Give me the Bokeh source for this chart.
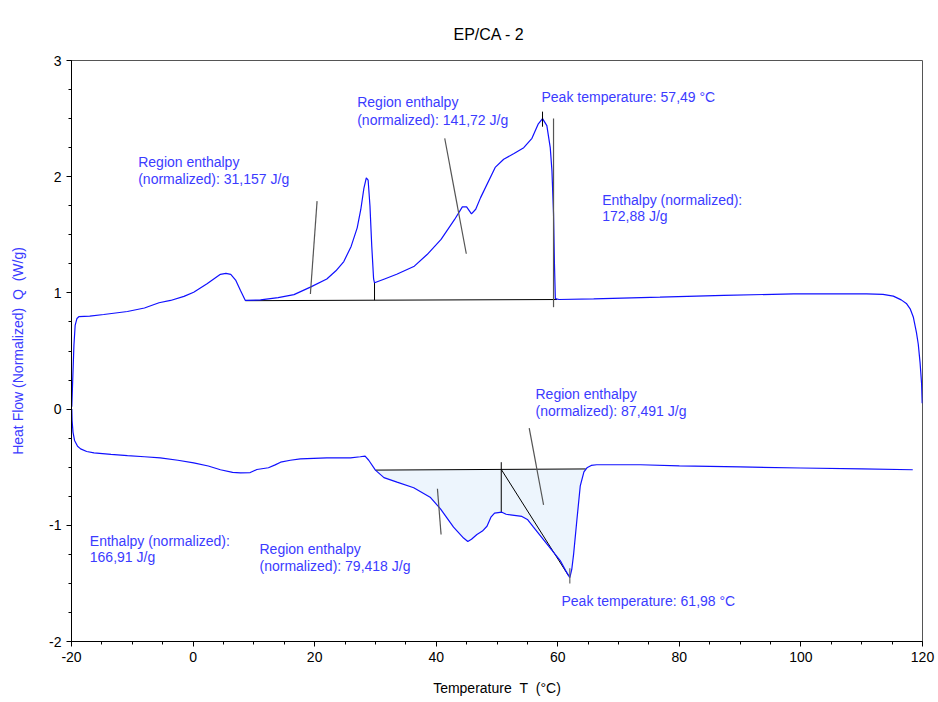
import numpy as np
from bokeh.plotting import figure
from bokeh.models import FixedTicker
from bokeh.embed import file_html
from bokeh.resources import INLINE
from bokeh.core.properties import value

# ---- DSC data: temperature T (°C) vs normalized heat flow Q (W/g) ----
# heating run (upper trace)
heat_T = [-19.95, -19.8, -19.6, -19.4, -19.1, -18.8, -17.0, -14.7, -10.8, -8.0,
          -5.6, -3.7, -1.5, 0.1, 2.3, 4.5, 5.4, 6.2, 7.0, 7.8,
          8.6, 11.1, 14.0, 16.6, 19.3, 22.0, 23.5, 24.8, 26.0, 27.0,
          27.6, 28.1, 28.5, 28.8, 29.1, 29.4, 29.7, 29.85, 31.5, 33.5,
          36.4, 38.5, 40.8, 43.0, 44.3, 45.0, 45.8, 46.5, 47.3, 49.7,
          51.1, 52.8, 54.4, 55.75, 56.8, 57.49, 58.2, 58.76, 59.04, 59.3,
          59.45, 59.6, 60.2, 65.9, 76.8, 87.3, 98.8, 110.8, 113.5, 115.2,
          116.5, 117.4, 118.0, 118.5, 119.0, 119.3, 119.6, 119.85, 119.95]
heat_Q = [0.02, 0.25, 0.55, 0.72, 0.78, 0.795, 0.80, 0.814, 0.84, 0.87,
          0.915, 0.935, 0.97, 1.006, 1.078, 1.16, 1.168, 1.16, 1.11, 1.02,
          0.935, 0.94, 0.96, 0.985, 1.05, 1.12, 1.19, 1.27, 1.40, 1.56,
          1.72, 1.90, 1.99, 1.97, 1.75, 1.40, 1.12, 1.087, 1.12, 1.16,
          1.23, 1.33, 1.46, 1.63, 1.74, 1.74, 1.68, 1.72, 1.82, 2.08,
          2.15, 2.20, 2.25, 2.33, 2.455, 2.50, 2.44, 2.25, 2.05, 1.68,
          1.25, 0.95, 0.943, 0.949, 0.963, 0.978, 0.992, 0.992, 0.988, 0.972,
          0.94, 0.906, 0.86, 0.79, 0.66, 0.56, 0.40, 0.218, 0.05]

# cooling run (lower trace)
cool_T = [-19.95, -19.9, -19.75, -19.5, -19.0, -18.5, -17.5, -16.3, -13.5, -10.8,
          -8.0, -5.4, -2.5, 0.1, 2.5, 4.5, 6.5, 7.8, 9.4, 10.5,
          12.4, 13.5, 14.4, 16.0, 17.65, 22.0, 25.9, 27.5, 28.3, 28.9,
          30.0, 31.4, 33.55, 36.3, 39.0, 40.7, 42.85, 44.5, 45.2, 45.8,
          46.7, 47.6, 48.35, 49.0, 49.6, 50.8, 51.5, 52.2, 54.1, 55.0,
          56.0, 58.2, 60.4, 61.3, 61.98, 62.3, 62.6, 63.15, 63.7, 64.3,
          64.8, 65.5, 66.4, 73.6, 80.0, 90.0, 100.0, 110.0, 118.4]
cool_Q = [0.0, -0.10, -0.20, -0.27, -0.32, -0.342, -0.365, -0.376, -0.39, -0.40,
          -0.41, -0.42, -0.44, -0.463, -0.49, -0.522, -0.545, -0.549, -0.546, -0.52,
          -0.505, -0.48, -0.457, -0.44, -0.428, -0.419, -0.419, -0.41, -0.405, -0.44,
          -0.525, -0.59, -0.629, -0.677, -0.758, -0.858, -1.016, -1.11, -1.139, -1.12,
          -1.079, -1.05, -1.008, -0.93, -0.895, -0.887, -0.905, -0.91, -0.924, -0.95,
          -1.016, -1.16, -1.303, -1.39, -1.45, -1.38, -1.25, -0.95, -0.66, -0.54,
          -0.505, -0.485, -0.479, -0.479, -0.488, -0.498, -0.507, -0.515, -0.522]

# integration baselines and region splits
heat_base_T = [8.6, 59.9]
heat_base_Q = [0.933, 0.943]
cool_base_T = [30.0, 64.6]
cool_base_Q = [-0.525, -0.515]
heat_split_T = 29.85
cool_split_T = 50.7
cool_split_top = -0.457

# peak temperatures (°C)
peak_T = [57.49, 61.98]

# enthalpy results (J/g)
region_heat = ["31,157", "141,72"]
total_heat = "172,88"
region_cool = ["79,418", "87,491"]
total_cool = "166,91"

x_ticks = [-20, 0, 20, 40, 60, 80, 100, 120]
y_ticks = [-2, -1, 0, 1, 2, 3]


def fmt(v):
    return f"{v:.2f}".replace(".", ",")


W, H = 938, 702
L, R, T_, B = 71, 16, 60, 61
x0, x1, y0, y1 = -20, 120, -2, 3
fw, fh = W - L - R, H - T_ - B


def px_x(px):
    return x0 + (px - L) * (x1 - x0) / fw


def px_y(py):
    return y1 - (py - T_) * (y1 - y0) / fh


FONT = "Liberation Sans"
BLUE_TXT = "#3b3bff"
CURVE = "#1010ff"
SP = "\u00a0\u00a0"

p = figure(width=W, height=H, x_range=(x0, x1), y_range=(y0, y1),
           output_backend="svg", toolbar_location=None, title="EP/CA - 2",
           min_border_left=L, min_border_right=R, min_border_top=T_,
           min_border_bottom=B)
p.xgrid.visible = False
p.ygrid.visible = False
p.outline_line_color = "#555555"
p.background_fill_color = "white"
p.border_fill_color = "white"

p.title.text_font = FONT
p.title.text_font_size = "16px"
p.title.text_font_style = "normal"
p.title.text_color = "black"
p.title.align = "left"
p.title.offset = 382
p.title.standoff = 36

for ax in (p.xaxis, p.yaxis):
    ax.axis_line_color = "black"
    ax.major_tick_line_color = "black"
    ax.minor_tick_line_color = "black"
    ax.major_tick_in = 0
    ax.major_tick_out = 5
    ax.minor_tick_in = 0
    ax.minor_tick_out = 3
    ax.major_label_text_font = FONT
    ax.major_label_text_font_size = "14px"
    ax.major_label_text_color = "black"
    ax.major_label_standoff = 5
    ax.axis_label_text_font = FONT
    ax.axis_label_text_font_size = "14px"
    ax.axis_label_text_font_style = "normal"

p.xaxis.axis_label = f"Temperature{SP}T{SP}(°C)"
p.xaxis.axis_label_text_color = "black"
p.xaxis.axis_label_standoff = 15
p.yaxis.axis_label = f"Heat Flow (Normalized){SP}Q{SP}(W/g)"
p.yaxis.axis_label_text_color = BLUE_TXT
p.yaxis.axis_label_standoff = 20

p.xaxis.ticker = FixedTicker(ticks=x_ticks, minor_ticks=list(np.arange(-20, 121, 5)))
p.yaxis.ticker = FixedTicker(ticks=y_ticks, minor_ticks=list(np.arange(-2, 3.01, 0.25)))
p.xaxis.major_label_overrides = {t: str(t) for t in x_ticks}
p.yaxis.major_label_overrides = {t: str(t) for t in y_ticks}

# shaded crystallization area between cooling trace and its baseline
cT = np.array(cool_T)
cQ = np.array(cool_Q)
mask = (cT >= cool_base_T[0]) & (cT <= cool_base_T[1])
fx = np.concatenate([[cool_base_T[0]], cT[mask], [cool_base_T[1]]])
fy_curve = np.interp(fx, cT, cQ)
fy_base = np.interp(fx, cool_base_T, cool_base_Q)
fy_curve = np.minimum(fy_curve, fy_base)
p.varea(x=fx, y1=fy_base, y2=fy_curve, fill_color="#edf5fd")

# baselines
p.line(heat_base_T, heat_base_Q, line_color="black", line_width=1)
p.line(cool_base_T, cool_base_Q, line_color="black", line_width=1)

# region splits
hb = float(np.interp(heat_split_T, heat_base_T, heat_base_Q))
hc = float(np.interp(heat_split_T, heat_T, heat_Q))
p.segment(x0=[heat_split_T], y0=[hb], x1=[heat_split_T], y1=[hc], line_color="black", line_width=1)
cc = float(np.interp(cool_split_T, cool_T, cool_Q))
p.segment(x0=[cool_split_T], y0=[cool_split_top], x1=[cool_split_T], y1=[cc], line_color="black", line_width=1)
cb = float(np.interp(cool_split_T, cool_base_T, cool_base_Q))
cpk = float(np.interp(peak_T[1], cool_T, cool_Q))
p.segment(x0=[cool_split_T], y0=[cb], x1=[peak_T[1] - 0.2], y1=[cpk + 0.015], line_color="black", line_width=1)

# traces
p.line(heat_T, heat_Q, line_color=CURVE, line_width=1.2)
p.line(cool_T, cool_Q, line_color=CURVE, line_width=1.2)

# leader lines for the result labels
lead_x0 = [19.3, 41.4, 59.3, 55.3, 40.2]
lead_y0 = [0.99, 2.33, 2.50, -0.164, -0.686]
lead_x1 = [20.4, 44.95, 59.3, 57.66, 40.8]
lead_y1 = [1.79, 1.337, 0.877, -0.824, -1.079]
p.segment(x0=lead_x0, y0=lead_y0, x1=lead_x1, y1=lead_y1, line_color="#555555", line_width=1.2)

# peak markers
hp = float(np.interp(peak_T[0], heat_T, heat_Q))
p.segment(x0=[peak_T[0]], y0=[hp + 0.06], x1=[peak_T[0]], y1=[hp - 0.07], line_color="black", line_width=1)
p.segment(x0=[peak_T[1]], y0=[cpk + 0.08], x1=[peak_T[1]], y1=[cpk - 0.05], line_color="#666666", line_width=1.2)

# result labels
lab_px = [
    (137.7, 161.7, "Region enthalpy"),
    (137.7, 178.0, f"(normalized): {region_heat[0]} J/g"),
    (356.7, 101.7, "Region enthalpy"),
    (356.7, 119.0, f"(normalized): {region_heat[1]} J/g"),
    (541.0, 96.0, f"Peak temperature: {fmt(peak_T[0])} °C"),
    (601.7, 199.0, "Enthalpy (normalized):"),
    (601.7, 215.5, f"{total_heat} J/g"),
    (535.0, 393.3, "Region enthalpy"),
    (535.0, 410.0, f"(normalized): {region_cool[1]} J/g"),
    (89.3, 540.0, "Enthalpy (normalized):"),
    (89.3, 556.5, f"{total_cool} J/g"),
    (259.0, 548.3, "Region enthalpy"),
    (259.0, 565.0, f"(normalized): {region_cool[0]} J/g"),
    (561.0, 600.0, f"Peak temperature: {fmt(peak_T[1])} °C"),
]
p.text(x=[px_x(a) for a, _, _ in lab_px], y=[px_y(b) for _, b, _ in lab_px],
       text=[t for _, _, t in lab_px], text_font=value(FONT), text_font_size="14px",
       text_color=BLUE_TXT, text_align="left", text_baseline="middle")

open("out.html", "w").write(file_html(p, INLINE))
